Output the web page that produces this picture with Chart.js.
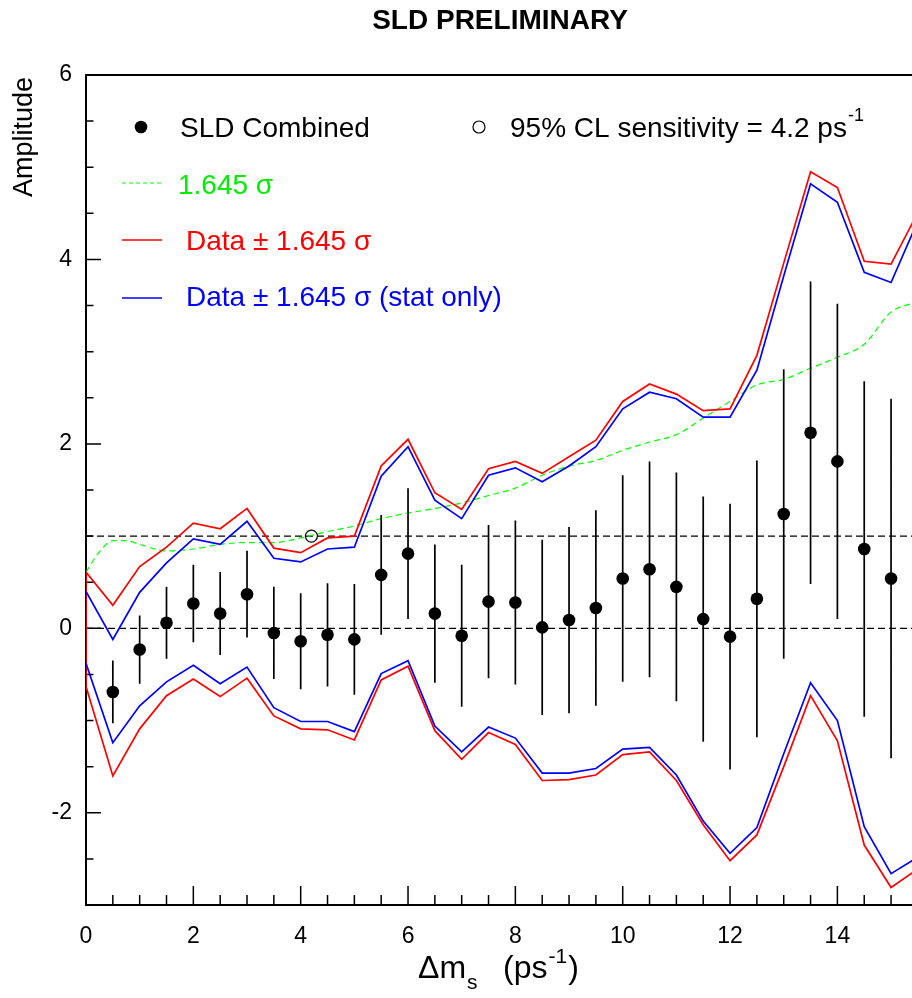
<!DOCTYPE html>
<html><head><meta charset="utf-8">
<script src="https://cdn.jsdelivr.net/npm/chart.js@4"></script>
<style>html,body{margin:0;padding:0;background:#fff;}#c{display:block;}</style>
</head><body>
<canvas id="c" width="912" height="998" style="width:912px;height:998px"></canvas>
<script>
const FONT = '"Liberation Sans", Arial, Helvetica, sans-serif';

// ---- data ----
const pointX = [0.5,1,1.5,2,2.5,3,3.5,4,4.5,5,5.5,6,6.5,7,7.5,8,8.5,9,9.5,10,10.5,11,11.5,12,12.5,13,13.5,14,14.5,15];
const amplitude = [-0.69,-0.23,0.06,0.27,0.16,0.37,-0.05,-0.14,-0.07,-0.12,0.58,0.81,0.16,-0.08,0.29,0.28,0.01,0.09,0.22,0.54,0.64,0.45,0.10,-0.09,0.32,1.24,2.12,1.81,0.86,0.54];
const errorHalf = [0.34,0.37,0.39,0.42,0.45,0.47,0.50,0.52,0.56,0.60,0.65,0.71,0.75,0.77,0.83,0.89,0.95,1.01,1.06,1.12,1.17,1.24,1.33,1.44,1.50,1.57,1.64,1.71,1.82,1.95];

const bandX = [0,0.5,1,1.5,2,2.5,3,3.5,4,4.5,5,5.5,6,6.5,7,7.5,8,8.5,9,9.5,10,10.5,11,11.5,12,12.5,13,13.5,14,14.5,15,15.5];
const redUpper = [0.61,0.25,0.67,0.88,1.14,1.08,1.30,0.87,0.82,0.98,1.00,1.76,2.05,1.47,1.29,1.73,1.81,1.68,1.86,2.04,2.46,2.65,2.54,2.36,2.38,2.96,3.96,4.95,4.78,3.98,3.95,4.51];
const redLower = [-0.63,-1.60,-1.09,-0.73,-0.55,-0.74,-0.54,-0.95,-1.09,-1.10,-1.21,-0.56,-0.41,-1.11,-1.42,-1.13,-1.26,-1.65,-1.64,-1.59,-1.37,-1.34,-1.65,-2.13,-2.52,-2.24,-1.50,-0.73,-1.22,-2.35,-2.81,-2.61];
const blueUpper = [0.40,-0.12,0.39,0.71,0.97,0.91,1.16,0.76,0.72,0.86,0.88,1.65,1.97,1.39,1.19,1.66,1.74,1.59,1.76,1.97,2.38,2.56,2.49,2.29,2.29,2.80,3.82,4.82,4.62,3.86,3.75,4.42];
const blueLower = [-0.38,-1.24,-0.84,-0.58,-0.40,-0.60,-0.42,-0.86,-1.01,-1.01,-1.12,-0.49,-0.35,-1.06,-1.34,-1.07,-1.19,-1.57,-1.57,-1.52,-1.31,-1.29,-1.59,-2.09,-2.44,-2.16,-1.36,-0.59,-1.00,-2.15,-2.66,-2.48];

const sensCurveX = [0,0.25,0.5,0.75,1,1.5,2,2.5,3,3.5,4,4.5,5,5.5,6,6.5,7,7.5,8,8.5,9,9.5,10,10.5,11,11.5,12,12.5,13,13.5,14,14.5,15,15.5];
const sensCurveY = [0.61,0.83,0.95,0.95,0.91,0.84,0.86,0.91,0.93,0.93,0.98,1.05,1.11,1.19,1.25,1.30,1.36,1.44,1.52,1.66,1.76,1.82,1.93,2.02,2.10,2.28,2.46,2.64,2.70,2.82,2.94,3.08,3.43,3.54];

const sensitivityPoint = [{x: 4.2, y: 1.0}];
const refLevels = [0, 1];

const xRange = [0, 15.39];
const yRange = [-3, 6];
const xTickValues = [0,2,4,6,8,10,12,14];
const yTickValues = [-2,0,2,4,6];
const xMinorStep = 0.5, yMinorStep = 0.5;

// ---- derived datasets ----
const pts = pointX.map((x,i)=>({x, y: amplitude[i]}));
const errData = [];
pointX.forEach((x,i)=>{
  errData.push({x, y: amplitude[i]-errorHalf[i]}, {x, y: amplitude[i]+errorHalf[i]}, {x, y: null});
});
const redPath = bandX.map((x,i)=>({x, y: redUpper[i]})).reverse()
  .concat(bandX.map((x,i)=>({x, y: redLower[i]})));
const blueUp = bandX.map((x,i)=>({x, y: blueUpper[i]}));
const blueLo = bandX.map((x,i)=>({x, y: blueLower[i]}));
const sensCurve = sensCurveX.map((x,i)=>({x, y: sensCurveY[i]}));
const refSets = refLevels.map(v => ({
  data: [{x: 0, y: v}, {x: 15.5, y: v}],
  borderColor: '#000', borderWidth: 1.1, borderDash: [7,4], pointRadius: 0, order: 6
}));

const axisPlugin = {
  id: 'axisFrame',
  beforeDatasetsDraw(chart) {
    const {ctx, chartArea: a, scales: {x, y}} = chart;
    ctx.save();
    ctx.strokeStyle = '#000';
    ctx.lineWidth = 1.5;
    ctx.beginPath();
    for (let v = x.min; v <= x.max + 1e-9; v += xMinorStep) {
      const px = x.getPixelForValue(v);
      const major = xTickValues.some(t => Math.abs(t - v) < 1e-9);
      ctx.moveTo(px, a.bottom); ctx.lineTo(px, a.bottom - (major ? 19 : 10));
    }
    for (let v = y.min; v <= y.max + 1e-9; v += yMinorStep) {
      const py = y.getPixelForValue(v);
      const major = yTickValues.some(t => Math.abs(t - v) < 1e-9);
      ctx.moveTo(a.left, py); ctx.lineTo(a.left + (major ? 15 : 7.5), py);
    }
    ctx.stroke();
    ctx.lineWidth = 2;
    ctx.beginPath();
    ctx.moveTo(a.right + 2, a.top); ctx.lineTo(a.left, a.top); ctx.lineTo(a.left, a.bottom); ctx.lineTo(a.right + 2, a.bottom);
    ctx.stroke();
    ctx.restore();
  },
  afterDraw(chart) {
    const ctx = chart.ctx;
    ctx.save();
    ctx.textBaseline = 'alphabetic';
    // title
    ctx.fillStyle = '#000';
    ctx.font = 'bold 28px ' + FONT;
    ctx.textAlign = 'center';
    ctx.fillText('SLD PRELIMINARY', 500, 29);
    ctx.textAlign = 'left';
    // y title
    ctx.save();
    ctx.translate(32, 77);
    ctx.rotate(-Math.PI/2);
    ctx.font = '27px ' + FONT;
    ctx.textAlign = 'right';
    ctx.fillText('Amplitude', 0, 0);
    ctx.restore();
    // x title
    let xx = 418;
    ctx.font = '32px ' + FONT;
    ctx.fillText('\u0394m', xx, 978); xx += ctx.measureText('\u0394m').width + 1;
    ctx.font = '21px ' + FONT;
    ctx.fillText('s', xx, 989);
    xx = 503;
    ctx.font = '32px ' + FONT;
    ctx.fillText('(ps', xx, 978); xx += ctx.measureText('(ps').width + 1;
    ctx.font = '21px ' + FONT;
    ctx.fillText('-1', xx, 963); xx += ctx.measureText('-1').width + 1;
    ctx.font = '32px ' + FONT;
    ctx.fillText(')', xx, 978);

    // legend
    ctx.font = '28px ' + FONT;
    ctx.fillStyle = '#000';
    ctx.beginPath(); ctx.arc(141, 127, 6.3, 0, Math.PI*2); ctx.fill();
    ctx.fillText('SLD Combined', 180, 137);
    ctx.strokeStyle = '#000'; ctx.lineWidth = 1.2;
    ctx.beginPath(); ctx.arc(479, 127, 6, 0, Math.PI*2); ctx.stroke();
    const s1 = '95% CL sensitivity = 4.2 ps';
    ctx.fillText(s1, 510, 137);
    const w1 = ctx.measureText(s1).width;
    ctx.font = '18px ' + FONT;
    ctx.fillText('-1', 510 + w1 + 1, 121);

    ctx.font = '28px ' + FONT;
    ctx.lineWidth = 1.2;
    ctx.strokeStyle = '#00ff00'; ctx.setLineDash([4,3]);
    ctx.beginPath(); ctx.moveTo(122, 183); ctx.lineTo(162, 183); ctx.stroke();
    ctx.setLineDash([]);
    ctx.fillStyle = '#00ee00';
    ctx.fillText('1.645 \u03c3', 178, 194);

    ctx.lineWidth = 1.6;
    ctx.strokeStyle = '#ff0000';
    ctx.beginPath(); ctx.moveTo(122, 240); ctx.lineTo(162, 240); ctx.stroke();
    ctx.fillStyle = '#ff0000';
    ctx.fillText('Data \u00b1 1.645 \u03c3', 186, 250);

    ctx.strokeStyle = '#0000ff';
    ctx.beginPath(); ctx.moveTo(122, 298); ctx.lineTo(162, 298); ctx.stroke();
    ctx.fillStyle = '#0000ff';
    ctx.fillText('Data \u00b1 1.645 \u03c3 (stat only)', 186, 306);
    ctx.restore();
  }
};

new Chart(document.getElementById('c'), {
  type: 'line',
  data: {
    datasets: [
      {label: 'SLD Combined', data: pts, showLine: false, pointRadius: 6.3, pointHoverRadius: 6.3,
       pointBackgroundColor: '#000', pointBorderColor: '#000', pointBorderWidth: 0, order: 0},
      {label: 'errors', data: errData, borderColor: '#000', borderWidth: 1.7, pointRadius: 0, spanGaps: false, order: 1},
      {label: '95% CL sensitivity', data: sensitivityPoint, showLine: false, pointRadius: 6,
       pointBackgroundColor: 'rgba(0,0,0,0)', pointBorderColor: '#000', pointBorderWidth: 1.2, order: 1},
      {label: 'Data ± 1.645 σ', data: redPath, borderColor: '#ff0000', borderWidth: 1.7, pointRadius: 0, tension: 0, order: 3},
      {label: 'stat up', data: blueUp, borderColor: '#0000ff', borderWidth: 1.7, pointRadius: 0, tension: 0, order: 2},
      {label: 'stat low', data: blueLo, borderColor: '#0000ff', borderWidth: 1.7, pointRadius: 0, tension: 0, order: 2},
      {label: '1.645 σ', data: sensCurve, borderColor: '#00ff00', borderWidth: 1.2, borderDash: [6,4],
       cubicInterpolationMode: 'monotone', pointRadius: 0, order: 4},
      ...refSets
    ]
  },
  options: {
    responsive: false, animation: false, devicePixelRatio: 1,
    layout: {autoPadding: false, padding: {top: 75, left: 0, right: 0, bottom: 0}},
    plugins: {legend: {display: false}, title: {display: false}, tooltip: {enabled: false}},
    scales: {
      x: {
        type: 'linear', min: xRange[0], max: xRange[1], offset: false,
        grid: {display: false, drawTicks: false}, border: {display: false},
        afterFit(s) { s.height = 93; s.paddingLeft = 0; s.paddingRight = 0; },
        afterBuildTicks(s) { s.ticks = xTickValues.map(v => ({value: v})); },
        ticks: {font: {family: FONT, size: 23}, color: '#000', padding: 18, maxRotation: 0, autoSkip: false}
      },
      y: {
        type: 'linear', min: yRange[0], max: yRange[1],
        grid: {display: false, drawTicks: false}, border: {display: false},
        afterFit(s) { s.width = 86; s.paddingTop = 0; s.paddingBottom = 0; },
        afterBuildTicks(s) { s.ticks = yTickValues.map(v => ({value: v})); },
        ticks: {font: {family: FONT, size: 23}, color: '#000', padding: 14}
      }
    }
  },
  plugins: [axisPlugin]
});
</script>
</body></html>
